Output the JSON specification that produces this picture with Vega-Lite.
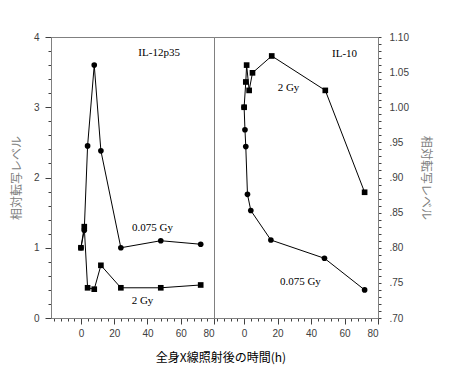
{
  "$schema": "https://vega.github.io/schema/vega-lite/v6.json",
  "padding": {"top": 31, "left": 9, "right": 5, "bottom": 5},
  "background": "white",
  "bounds": "flush",
  "datasets": {
    "il12": [
      {"time": 0, "level": 1.0, "dose": "2 Gy"},
      {"time": 2, "level": 1.30, "dose": "2 Gy"},
      {"time": 4, "level": 0.43, "dose": "2 Gy"},
      {"time": 8, "level": 0.41, "dose": "2 Gy"},
      {"time": 12, "level": 0.75, "dose": "2 Gy"},
      {"time": 24, "level": 0.43, "dose": "2 Gy"},
      {"time": 48, "level": 0.43, "dose": "2 Gy"},
      {"time": 72, "level": 0.47, "dose": "2 Gy"},
      {"time": 0, "level": 1.0, "dose": "0.075 Gy"},
      {"time": 2, "level": 1.25, "dose": "0.075 Gy"},
      {"time": 4, "level": 2.45, "dose": "0.075 Gy"},
      {"time": 8, "level": 3.6, "dose": "0.075 Gy"},
      {"time": 12, "level": 2.38, "dose": "0.075 Gy"},
      {"time": 24, "level": 1.0, "dose": "0.075 Gy"},
      {"time": 48, "level": 1.1, "dose": "0.075 Gy"},
      {"time": 72, "level": 1.05, "dose": "0.075 Gy"}
    ],
    "il10": [
      {"time": 0, "level": 1.0, "dose": "2 Gy"},
      {"time": 1, "level": 1.036, "dose": "2 Gy"},
      {"time": 1.5, "level": 1.060, "dose": "2 Gy"},
      {"time": 3, "level": 1.024, "dose": "2 Gy"},
      {"time": 5, "level": 1.049, "dose": "2 Gy"},
      {"time": 16.5, "level": 1.073, "dose": "2 Gy"},
      {"time": 48.5, "level": 1.024, "dose": "2 Gy"},
      {"time": 72, "level": 0.879, "dose": "2 Gy"},
      {"time": 0, "level": 1.0, "dose": "0.075 Gy"},
      {"time": 0.5, "level": 0.968, "dose": "0.075 Gy"},
      {"time": 1, "level": 0.944, "dose": "0.075 Gy"},
      {"time": 2, "level": 0.876, "dose": "0.075 Gy"},
      {"time": 4, "level": 0.853, "dose": "0.075 Gy"},
      {"time": 16, "level": 0.811, "dose": "0.075 Gy"},
      {"time": 48, "level": 0.785, "dose": "0.075 Gy"},
      {"time": 72, "level": 0.740, "dose": "0.075 Gy"}
    ],
    "notes12": [
      {"time": 47, "level": 3.77, "label": "IL-12p35"},
      {"time": 43, "level": 1.28, "label": "0.075 Gy"},
      {"time": 37, "level": 0.24, "label": "2 Gy"}
    ],
    "notes10": [
      {"time": 60, "level": 1.076, "label": "IL-10"},
      {"time": 26.5, "level": 1.027, "label": "2 Gy"},
      {"time": 33.6, "level": 0.751, "label": "0.075 Gy"}
    ]
  },
  "title": {
    "text": "全身X線照射後の時間(h)",
    "orient": "bottom",
    "anchor": "middle",
    "font": "Noto Sans CJK JP",
    "fontSize": 12,
    "fontWeight": "normal",
    "color": "#000000",
    "offset": 14
  },
  "spacing": 0,
  "resolve": {"scale": {"x": "independent", "y": "independent", "shape": "independent"}},
  "config": {
    "view": {"stroke": "#808080", "strokeWidth": 1},
    "axis": {
      "grid": false,
      "domainColor": "#808080",
      "labelColor": "#404040",
      "labelFont": "Liberation Sans",
      "labelFontSize": 10,
      "titleFont": "Noto Sans CJK JP",
      "titleFontSize": 12,
      "titleFontWeight": "normal",
      "titleColor": "#808080"
    },
    "text": {"font": "Liberation Serif", "fontSize": 11, "color": "#000000"}
  },
  "hconcat": [
    {
      "width": 163,
      "height": 281,
      "encoding": {
        "x": {"field": "time", "type": "quantitative", "scale": {"domain": [-18, 80], "nice": false, "zero": false},
          "axis": {"title": null, "labelOverlap": false, "tickColor": "#404040", "tickWidth": 1,
            "values": [-16,-12,-8,-4,0,4,8,12,16,20,24,28,32,36,40,44,48,52,56,60,64,68,72,76,80],
            "labelExpr": "datum.value % 20 === 0 ? datum.label : ''",
            "tickSize": {"condition": {"test": "datum.value % 20 === 0", "value": 6}, "value": 3},
            "labelPadding": 4}},
        "y": {"field": "level", "type": "quantitative", "scale": {"domain": [0, 4], "nice": false},
          "axis": {"title": "相対転写レベル", "titlePadding": 10, "labelOverlap": false, "tickColor": "#404040", "tickWidth": 1,
            "values": [0,0.2,0.4,0.6,0.8,1,1.2,1.4,1.6,1.8,2,2.2,2.4,2.6,2.8,3,3.2,3.4,3.6,3.8,4],
            "labelExpr": "abs(datum.value - round(datum.value)) < 1e-6 ? format(datum.value, 'd') : ''",
            "tickSize": {"condition": {"test": "abs(datum.value - round(datum.value)) < 1e-6", "value": 6}, "value": 3},
            "labelPadding": 6}}
      },
      "layer": [
        {
          "data": {"name": "il12"},
          "mark": {"type": "line", "color": "#000000", "strokeWidth": 1},
          "encoding": {"detail": {"field": "dose"}}
        },
        {
          "data": {"name": "il12"},
          "mark": {"type": "point", "filled": true, "color": "#000000", "opacity": 1, "size": 32},
          "encoding": {
            "shape": {"field": "dose", "type": "nominal", "scale": {"domain": ["2 Gy", "0.075 Gy"], "range": ["square", "circle"]}, "legend": null}
          }
        },
        {
          "data": {"name": "notes12"},
          "mark": {"type": "text", "align": "center", "baseline": "middle"},
          "encoding": {"text": {"field": "label"}}
        }
      ]
    },
    {
      "width": 164,
      "height": 281,
      "encoding": {
        "x": {"field": "time", "type": "quantitative", "scale": {"domain": [-18, 80], "nice": false, "zero": false},
          "axis": {"title": null, "labelOverlap": false, "tickColor": "#404040", "tickWidth": 1,
            "values": [-16,-12,-8,-4,0,4,8,12,16,20,24,28,32,36,40,44,48,52,56,60,64,68,72,76,80],
            "labelExpr": "datum.value % 20 === 0 ? datum.label : ''",
            "tickSize": {"condition": {"test": "datum.value % 20 === 0", "value": 6}, "value": 3},
            "labelPadding": 4}},
        "y": {"field": "level", "type": "quantitative", "scale": {"domain": [0.7, 1.1], "nice": false, "zero": false},
          "axis": {"orient": "right", "title": "相対転写レベル", "titlePadding": 10, "labelOverlap": false, "tickColor": "#404040", "tickWidth": 1,
            "values": [0.7,0.71,0.72,0.73,0.74,0.75,0.76,0.77,0.78,0.79,0.8,0.81,0.82,0.83,0.84,0.85,0.86,0.87,0.88,0.89,0.9,0.91,0.92,0.93,0.94,0.95,0.96,0.97,0.98,0.99,1.0,1.01,1.02,1.03,1.04,1.05,1.06,1.07,1.08,1.09,1.1],
            "labelExpr": "abs(datum.value * 20 - round(datum.value * 20)) < 1e-6 ? (datum.value >= 1 ? format(datum.value, '.2f') : replace(format(datum.value, '.2f'), '0.', '.')) : ''",
            "tickSize": 3,
            "labelPadding": 8}}
      },
      "layer": [
        {
          "data": {"name": "il10"},
          "mark": {"type": "line", "color": "#000000", "strokeWidth": 1},
          "encoding": {"detail": {"field": "dose"}}
        },
        {
          "data": {"name": "il10"},
          "mark": {"type": "point", "filled": true, "color": "#000000", "opacity": 1, "size": 32},
          "encoding": {
            "shape": {"field": "dose", "type": "nominal", "scale": {"domain": ["2 Gy", "0.075 Gy"], "range": ["square", "circle"]}, "legend": null}
          }
        },
        {
          "data": {"name": "notes10"},
          "mark": {"type": "text", "align": "center", "baseline": "middle"},
          "encoding": {"text": {"field": "label"}}
        }
      ]
    }
  ]
}
